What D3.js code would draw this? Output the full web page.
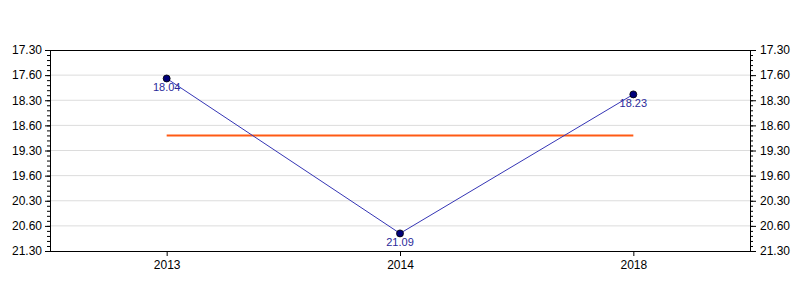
<!DOCTYPE html>
<html>
<head>
<meta charset="utf-8">
<script src="https://cdn.jsdelivr.net/npm/d3@7"></script>
<style>
  body { margin: 0; background: #fff; }
  svg { display: block; font-family: "Liberation Sans", Arial, sans-serif; }
</style>
</head>
<body>
<svg id="chart" width="800" height="300"></svg>
<script>
// times as mm.ss strings
const years = ['2013', '2014', '2018'];
const times = ['18.04', '21.09', '18.23'];
const yTicks = [17.5, 18, 18.5, 19, 19.5, 20, 20.5, 21, 21.5];
const yTickLabels = ['17.30', '17.60', '18.30', '18.60', '19.30', '19.60', '20.30', '20.60', '21.30'];

const toMin = s => { const [m, sec] = s.split('.'); return +m + (+sec) / 60; };
const data = years.map((y, i) => ({ year: y, label: times[i], v: toMin(times[i]) }));
const mean = d3.mean(data, d => d.v);

const margin = { top: 50, right: 50, bottom: 49, left: 50 };
const W = 800, H = 300;
const svg = d3.select('#chart');

const x = d3.scalePoint().domain(years).range([margin.left, W - margin.right]).padding(0.5);
const y = d3.scaleLinear().domain([17.5, 21.5]).range([margin.top, H - margin.bottom]);

// grid
svg.append('g')
  .selectAll('line')
  .data(yTicks.slice(1, -1))
  .join('line')
  .attr('x1', margin.left).attr('x2', W - margin.right)
  .attr('y1', d => y(d)).attr('y2', d => y(d))
  .attr('stroke', '#dcdcdc').attr('stroke-width', 1);

const minor = d3.range(0, 41).map(i => 17.5 + i * 0.1);
const fmt = (d) => yTickLabels[yTicks.findIndex(t => Math.abs(t - d) < 1e-6)];

const leftMinor = svg.append('g').attr('transform', `translate(${margin.left},0)`)
  .call(d3.axisLeft(y).tickValues(minor).tickSize(3).tickFormat(''));
const leftAxis = svg.append('g').attr('transform', `translate(${margin.left},0)`)
  .call(d3.axisLeft(y).tickValues(yTicks).tickSize(5).tickPadding(3).tickFormat(fmt));
const rightMinor = svg.append('g').attr('transform', `translate(${W - margin.right},0)`)
  .call(d3.axisRight(y).tickValues(minor).tickSize(3).tickFormat(''));
const rightAxis = svg.append('g').attr('transform', `translate(${W - margin.right},0)`)
  .call(d3.axisRight(y).tickValues(yTicks).tickSize(6).tickPadding(4).tickFormat(fmt));
const xAxis = svg.append('g').attr('transform', `translate(0,${H - margin.bottom})`)
  .call(d3.axisBottom(x).tickSize(5).tickPadding(4));

[leftMinor, leftAxis, rightMinor, rightAxis, xAxis].forEach(g => {
  g.select('.domain').remove();
  g.selectAll('.tick line').attr('stroke', '#000');
  g.selectAll('text').attr('fill', '#000').style('font-size', '12px').style('font-family', '"Liberation Sans", Arial, sans-serif');
});

// frame
svg.append('rect')
  .attr('x', margin.left + 0.5).attr('y', margin.top + 0.5)
  .attr('width', W - margin.left - margin.right).attr('height', H - margin.top - margin.bottom)
  .attr('fill', 'none').attr('stroke', '#000').attr('stroke-width', 1);

// mean line
svg.append('line')
  .attr('x1', x(years[0])).attr('x2', x(years[years.length - 1]))
  .attr('y1', y(mean)).attr('y2', y(mean))
  .attr('stroke', '#ff5a14').attr('stroke-width', 2);

// series
svg.append('path')
  .datum(data)
  .attr('fill', 'none')
  .attr('stroke', '#3535b5')
  .attr('stroke-width', 1)
  .attr('d', d3.line().x(d => x(d.year)).y(d => y(d.v)));

svg.append('g').selectAll('circle')
  .data(data)
  .join('circle')
  .attr('cx', d => x(d.year)).attr('cy', d => y(d.v))
  .attr('r', 3.5)
  .attr('fill', '#00007a').attr('stroke', '#000').attr('stroke-width', 0.8);

svg.append('g').selectAll('text')
  .data(data)
  .join('text')
  .attr('x', d => x(d.year)).attr('y', d => y(d.v) + 13)
  .attr('text-anchor', 'middle')
  .attr('fill', '#2a2a9a')
  .style('font-size', '11px')
  .text(d => d.label);
</script>
</body>
</html>
